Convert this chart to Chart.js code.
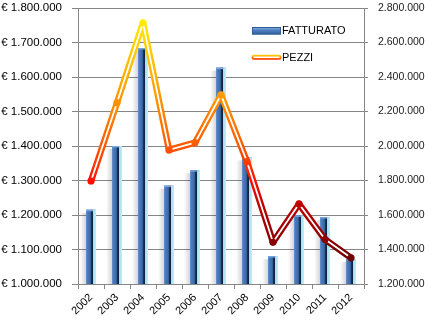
<!DOCTYPE html>
<html>
<head>
<meta charset="utf-8">
<script src="https://cdn.jsdelivr.net/npm/chart.js@4/dist/chart.umd.min.js"></script>
<style>
  html, body { margin: 0; padding: 0; background: #ffffff; }
  #wrap { width: 432px; height: 325px; }
</style>
</head>
<body>
<div id="wrap"><canvas id="c" width="432" height="325"></canvas></div>
<script>
// Years on the category axis
const years = ['2002','2003','2004','2005','2006','2007','2008','2009','2010','2011','2012'];
// Revenue (€), left axis
const fatturato = [1215000, 1400000, 1684000, 1285000, 1330000, 1627000, 1367000, 1081000, 1199000, 1194000, 1072000];
// Units sold, right axis
const pezzi = [1797000, 2251000, 2714000, 1977000, 2019000, 2296000, 1909000, 1442000, 1664000, 1459000, 1352000];
// Axis ranges and legend labels
const leftTicks = { min: 1000000, max: 1800000, step: 100000 };
const rightTicks = { min: 1200000, max: 2800000, step: 200000 };
const seriesNames = ['FATTURATO', 'PEZZI'];

const FONT = '"Liberation Sans", Arial, sans-serif';
const GRID = '#868686';

function dotted(n) {
  return String(Math.round(n)).replace(/\B(?=(\d{3})+(?!\d))/g, '.');
}

// Vertical colour ramp for the units line: dark red at the bottom, yellow at the top
function rampGradient(chart) {
  const sc = chart.scales.y1;
  if (!sc || !chart.chartArea) return '#ff3300';
  const top = sc.getPixelForValue(rightTicks.max);
  const bot = sc.getPixelForValue(rightTicks.min);
  const g = chart.ctx.createLinearGradient(0, top, 0, bot);
  g.addColorStop(0.00, '#ffff00');
  g.addColorStop(0.07, '#ffe400');
  g.addColorStop(0.31, '#ff9c00');
  g.addColorStop(0.49, '#ff5c00');
  g.addColorStop(0.56, '#ff3800');
  g.addColorStop(0.63, '#ff0d00');
  g.addColorStop(0.71, '#c00000');
  g.addColorStop(0.84, '#8c0000');
  g.addColorStop(1.00, '#4a0000');
  return g;
}

// Bevelled look for the revenue columns: soft shadow, blue face, dark edge, light rim
function barBox(chart, el) {
  const p = el.getProps(['x', 'y', 'base', 'width'], true);
  const bottom = Math.min(p.base, chart.chartArea.bottom);
  return { l: p.x - p.width / 2, w: p.width, t: p.y, h: bottom - p.y };
}

const barLook = {
  id: 'barLook',
  beforeDatasetDraw(chart, args) {
    if (args.meta.type !== 'bar') return;
    const ctx = chart.ctx;
    ctx.save();
    args.meta.data.forEach(el => {
      const b = barBox(chart, el);
      const g = ctx.createLinearGradient(b.l - 6, 0, b.l, 0);
      g.addColorStop(0, 'rgba(0,0,0,0)');
      g.addColorStop(1, 'rgba(0,0,0,0.16)');
      ctx.fillStyle = g;
      ctx.fillRect(b.l - 6, b.t + 3, 6, b.h - 3);
    });
    ctx.restore();
  },
  afterDatasetDraw(chart, args) {
    if (args.meta.type !== 'bar') return;
    const ctx = chart.ctx;
    ctx.save();
    args.meta.data.forEach(el => {
      const b = barBox(chart, el);
      const g = ctx.createLinearGradient(b.l, 0, b.l + b.w, 0);
      g.addColorStop(0.00, '#6f9cd6');
      g.addColorStop(0.10, '#4c7dbf');
      g.addColorStop(0.42, '#3d6ba9');
      g.addColorStop(0.50, '#2c507f');
      g.addColorStop(0.56, '#15294a');
      g.addColorStop(0.72, '#10203a');
      g.addColorStop(0.74, '#a8e0f2');
      g.addColorStop(1.00, '#c2ecf8');
      ctx.fillStyle = g;
      ctx.fillRect(b.l, b.t, b.w, b.h);
      // top cap
      ctx.fillStyle = '#7aa3d8';
      ctx.fillRect(b.l, b.t, b.w * 0.72, 1.5);
    });
    ctx.restore();
  }
};

// Legend drawn inside the plot area, top right
const innerLegend = {
  id: 'innerLegend',
  afterDraw(chart) {
    const ctx = chart.ctx;
    ctx.save();
    // revenue swatch
    const gx = 252, gw = 29;
    const g = ctx.createLinearGradient(0, 27, 0, 35);
    g.addColorStop(0, '#8fb4e3');
    g.addColorStop(0.4, '#4f80c0');
    g.addColorStop(1, '#2d5a96');
    ctx.fillStyle = g;
    ctx.fillRect(gx, 27, gw, 7.5);
    ctx.strokeStyle = '#2f5c98';
    ctx.lineWidth = 1;
    ctx.strokeRect(gx + 0.5, 27.5, gw - 1, 6.5);
    // units swatch: compound line
    ctx.lineCap = 'round';
    const lg = ctx.createLinearGradient(0, 54.5, 0, 60);
    lg.addColorStop(0, '#ffe000');
    lg.addColorStop(0.5, '#ff9000');
    lg.addColorStop(1, '#ff1a00');
    ctx.strokeStyle = lg;
    ctx.lineWidth = 5;
    ctx.beginPath(); ctx.moveTo(gx + 2, 57.2); ctx.lineTo(gx + gw - 2, 57.2); ctx.stroke();
    ctx.strokeStyle = '#ffffff';
    ctx.lineWidth = 1.4;
    ctx.beginPath(); ctx.moveTo(gx + 2, 57.2); ctx.lineTo(gx + gw - 2, 57.2); ctx.stroke();
    // labels
    ctx.fillStyle = '#000000';
    ctx.font = '11px ' + FONT;
    ctx.textBaseline = 'middle';
    ctx.textAlign = 'left';
    ctx.fillText(seriesNames[0], 282, 31);
    ctx.fillText(seriesNames[1], 282, 57.5);
    ctx.restore();
  }
};

// White core stroked along the units line to give it a double-rule look
const lineCore = {
  id: 'lineCore',
  afterDatasetDraw(chart, args) {
    if (args.meta.type !== 'line') return;
    const pts = args.meta.data;
    const ctx = chart.ctx;
    ctx.save();
    ctx.strokeStyle = '#ffffff';
    ctx.lineWidth = 1.8;
    ctx.lineJoin = 'round';
    ctx.beginPath();
    pts.forEach((pt, i) => {
      const p = pt.getProps(['x', 'y'], true);
      if (i === 0) ctx.moveTo(p.x, p.y); else ctx.lineTo(p.x, p.y);
    });
    ctx.stroke();
    // markers
    ctx.fillStyle = rampGradient(chart);
    pts.forEach(pt => {
      const p = pt.getProps(['x', 'y'], true);
      ctx.beginPath();
      ctx.arc(p.x, p.y, 3.6, 0, Math.PI * 2);
      ctx.fill();
    });
    ctx.restore();
  }
};

new Chart(document.getElementById('c'), {
  data: {
    labels: years,
    datasets: [
      {
        type: 'line',
        label: seriesNames[1],
        data: pezzi,
        yAxisID: 'y1',
        order: 0,
        borderColor: ctx => rampGradient(ctx.chart),
        borderWidth: 6.5,
        borderJoinStyle: 'round',
        pointRadius: 0,
        tension: 0,
        fill: false
      },
      {
        type: 'bar',
        label: seriesNames[0],
        data: fatturato,
        yAxisID: 'y',
        order: 1,
        backgroundColor: '#3f6dab',
        borderWidth: 0,
        categoryPercentage: 1,
        barPercentage: 0.385
      }
    ]
  },
  options: {
    responsive: false,
    animation: false,
    layout: { padding: { top: 8, right: 0, left: 0, bottom: 0 } },
    plugins: { legend: { display: false }, tooltip: { enabled: false } },
    scales: {
      x: {
        offset: true,
        grid: { display: true, drawOnChartArea: false, drawTicks: true, tickLength: 5, offset: true, color: GRID },
        border: { display: true, color: GRID, width: 1 },
        ticks: { maxRotation: 45, minRotation: 45, padding: 2, color: '#000', font: { family: FONT, size: 11 } },
        afterFit(s) { s.height = 41; s.paddingLeft = 0; s.paddingRight = 0; }
      },
      y: {
        position: 'left',
        min: leftTicks.min, max: leftTicks.max,
        grid: { color: GRID, tickLength: 6, drawTicks: true },
        border: { display: true, color: GRID },
        ticks: {
          stepSize: leftTicks.step, padding: 10, color: '#000',
          font: { family: FONT, size: 11.5 },
          callback: v => '€ ' + dotted(v)
        },
        afterFit(s) { s.width = 78; s.paddingTop = 0; s.paddingBottom = 0; }
      },
      y1: {
        position: 'right',
        min: rightTicks.min, max: rightTicks.max,
        grid: { drawOnChartArea: false, color: GRID, tickLength: 4 },
        border: { display: true, color: GRID },
        ticks: {
          stepSize: rightTicks.step, padding: 10, color: '#222',
          font: { family: FONT, size: 10.5 },
          callback: v => dotted(v)
        },
        afterFit(s) { s.width = 68; s.paddingTop = 0; s.paddingBottom = 0; }
      }
    }
  },
  plugins: [barLook, lineCore, innerLegend]
});
</script>
</body>
</html>
